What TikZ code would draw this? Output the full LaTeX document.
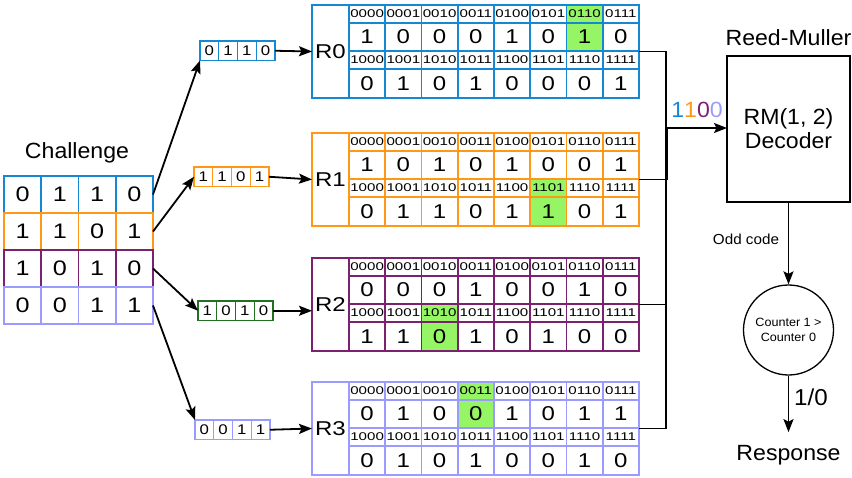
\documentclass[tikz,border=0pt]{standalone}
\usepackage{fontspec}
\setmainfont{Liberation Sans}[FakeStretch=1.05]
\newfontfamily\dig{Liberation Sans}[FakeStretch=1.2]
\newfontfamily\hdr{Liberation Sans}[FakeStretch=1.35]
\usetikzlibrary{arrows.meta}
\definecolor{cb}{RGB}{22,136,210}
\definecolor{co}{RGB}{255,152,22}
\definecolor{cp}{RGB}{122,34,112}
\definecolor{cl}{RGB}{155,155,255}
\definecolor{cg}{RGB}{34,112,34}
\definecolor{hl}{RGB}{150,245,100}
\newcommand\hdrlabel[2]{\ifnum#1=2 1\else 0\fi\ifcase#2\relax 000\or 001\or 010\or 011\or 100\or 101\or 110\or 111\fi}
\begin{document}
\begin{tikzpicture}[x=1pt,y=-1pt,
  cellbase/.style={draw, rectangle, inner sep=0pt, outer sep=0pt, anchor=north west, line width=1.6pt},
  arr/.style={line width=1.8pt, -{Stealth[length=13pt,width=10pt,inset=2.5pt]}},
  wire/.style={line width=1.6pt},
  bigdig/.style={font=\dig\fontsize{21}{24}\selectfont},
  tabdig/.style={font=\dig\fontsize{20}{24}\selectfont},
  hdrtxt/.style={font=\hdr\fontsize{11.2}{12}\selectfont},
  lbl/.style={font=\fontsize{22}{24}\selectfont}]
\useasboundingbox (0,0) rectangle (852,477);

% Challenge
\node[lbl, anchor=base] (chal) at (77,158.3) {Challenge};
\foreach \r/\C/\ds in {0/cb/{0,1,1,0},1/co/{1,1,0,1},2/cp/{1,0,1,0},3/cl/{0,0,1,1}}{
  \foreach \d [count=\c from 0] in \ds {
    \node[cellbase, draw=\C, minimum width=37.25pt, minimum height=37pt, bigdig] (cr\r-\c) at ({4+37.25*\c},{176+37*\r}) {\d};
  }
}

% small boxes
\foreach \k/\px/\py/\C/\ds in {0/200/41/cb/{0,1,1,0},1/194/167/co/{1,1,0,1},2/198/301/cg/{1,0,1,0},3/195/420/cl/{0,0,1,1}}{
  \foreach \d [count=\c from 0] in \ds {
    \node[cellbase, draw=\C, line width=1.3pt, minimum width=18.75pt, minimum height=19.5pt, font=\dig\fontsize{14}{15}\selectfont] (sb\k-\c) at ({\px+18.75*\c},\py) {\d};
  }
}

% R tables
\foreach \k/\Y/\C/\va/\vb/\hr/\hc in {
  0/5/cb/{1,0,0,0,1,0,1,0}/{0,1,0,1,0,0,0,1}/1/6,
  1/133/co/{1,0,1,0,1,0,0,1}/{0,1,1,0,1,1,0,1}/2/5,
  2/258/cp/{0,0,0,1,0,0,1,0}/{1,1,0,1,0,1,0,0}/2/2,
  3/382/cl/{0,1,0,0,1,0,1,1}/{0,1,0,1,0,0,1,0}/1/3}{
  \node[cellbase, draw=\C, minimum width=327pt, minimum height=93pt] (Rbox\k) at (312,\Y) {};
  \node[cellbase, draw=\C, minimum width=37pt, minimum height=93pt, tabdig] (R\k) at (312,\Y) {R\k};
  \foreach \v [count=\i from 0] in \va {
    \ifnum\hr=1 \ifnum\i=\hc \def\fa{hl}\else\def\fa{white}\fi\else\def\fa{white}\fi
    \node[cellbase, draw=\C, fill=\fa, minimum width=36.25pt, minimum height=18pt, hdrtxt] (R\k-ha-\i) at ({349+36.25*\i},\Y) {\hdrlabel{1}{\i}};
    \node[cellbase, draw=\C, fill=\fa, minimum width=36.25pt, minimum height=28pt, tabdig] (R\k-va-\i) at ({349+36.25*\i},{\Y+18}) {\v};
  }
  \foreach \v [count=\i from 0] in \vb {
    \ifnum\hr=2 \ifnum\i=\hc \def\fa{hl}\else\def\fa{white}\fi\else\def\fa{white}\fi
    \node[cellbase, draw=\C, fill=\fa, minimum width=36.25pt, minimum height=18pt, hdrtxt] (R\k-hb-\i) at ({349+36.25*\i},{\Y+46}) {\hdrlabel{2}{\i}};
    \node[cellbase, draw=\C, fill=\fa, minimum width=36.25pt, minimum height=29pt, tabdig] (R\k-vb-\i) at ({349+36.25*\i},{\Y+64}) {\v};
  }
}

% arrows challenge -> small boxes
\draw[arr] (cr0-3.east) -- (sb0-0.south west);
\draw[arr] (cr1-3.east) -- (sb1-0.west);
\draw[arr] (cr2-3.east) -- (sb2-0.west);
\draw[arr] (cr3-3.east) -- (sb3-0.north west);

% small boxes -> tables
\draw[arr] (sb0-3.east) -- (R0.west);
\draw[arr] (sb1-3.east) -- (R1.west);
\draw[arr] (sb2-3.east) -- (sb2-3.east -| R2.west);
\draw[arr] (sb3-3.east) -- (R3.west);

% decoder
\node[cellbase, draw=black, line width=1.8pt, minimum width=123pt, minimum height=146pt, align=center, font=\fontsize{22}{24}\selectfont] (dec) at (727,56) {RM(1, 2)\\Decoder};
\node[lbl, anchor=base] (rmlabel) at (788.5,45) {Reed-Muller};

% bus
\coordinate (bus) at (666,128);
\foreach \k in {0,...,3} \draw[wire] (Rbox\k.east) -| (bus);
\draw[line width=3pt] (bus) -- (bus |- Rbox1.east);
\draw[arr] (bus) -- (bus -| dec.west);
\node[lbl] (bits) at (697,110) {{\color{cb}1}{\color{co}1}{\color{cp}0}{\color{cl}0}};

% counter
\node[circle, draw, line width=1.3pt, minimum size=90pt, inner sep=0pt, align=center, font=\fontsize{12}{15}\selectfont] (cnt) at (788.5,330) {Counter 1 >\\Counter 0};
\draw[arr] (dec.south) -- (cnt.north);
\node[font=\fontsize{14.5}{16}\selectfont] (odd) at (746,239) {Odd code};

\node[lbl, anchor=base, inner xsep=0pt, inner ysep=12.5pt] (resp) at (788.5,460) {Response};
\draw[arr] (cnt.south) -- (resp.north);
\node[font=\fontsize{23}{25}\selectfont] (out) at (811,397) {1/0};
\end{tikzpicture}
\end{document}
